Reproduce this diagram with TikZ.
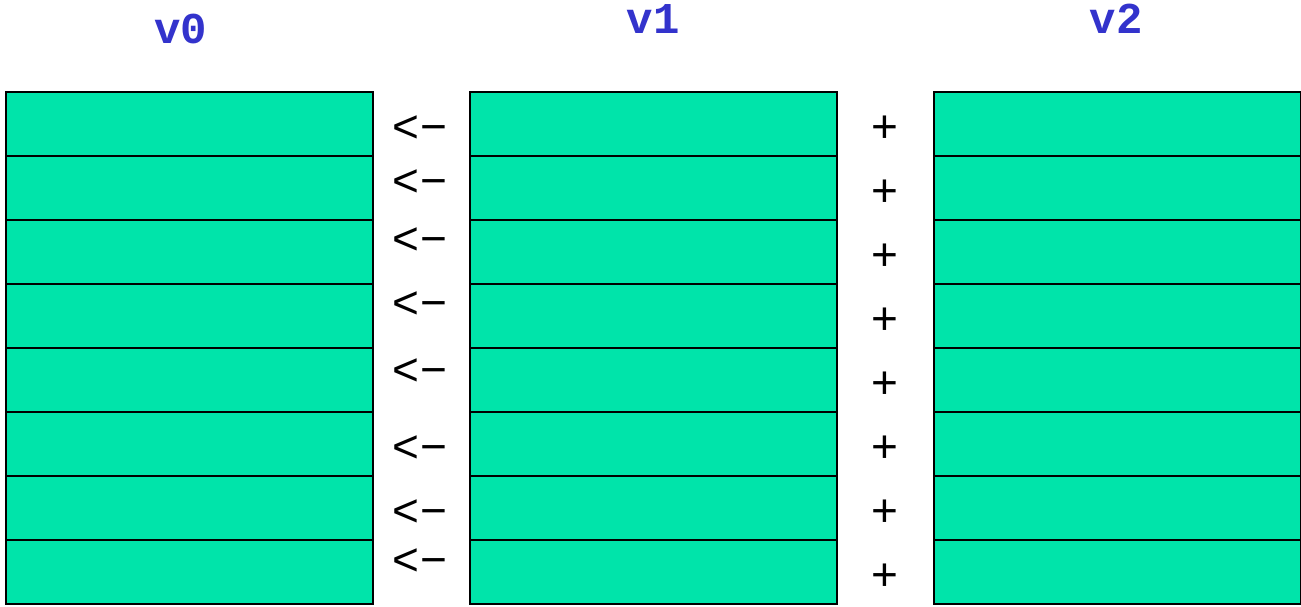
\documentclass[tikz,border=0pt]{standalone}
\usepackage{fontspec}
\setmainfont{Liberation Sans}
\newfontfamily\labelmono{Liberation Mono}
\definecolor{cellgreen}{RGB}{0,228,170}
\definecolor{labelblue}{RGB}{51,51,204}
\tikzset{
  cell/.style={draw=black, line width=2pt, fill=cellgreen, minimum width=367pt, minimum height=64pt, inner sep=0pt, anchor=north west},
  vlabel/.style={font=\labelmono\bfseries\fontsize{44}{44}\selectfont, text=labelblue, inner sep=0pt},
  opl/.style={font=\fontsize{46}{46}\selectfont, inner sep=0pt}
}
\begin{document}
\begin{tikzpicture}[x=1pt,y=-1pt]
\useasboundingbox (0,0) rectangle (1301,606);
\foreach \i in {0,...,7} {
  \node[cell] (a\i) at (5,{91+64*\i}) {};
  \node[cell] (b\i) at (469,{91+64*\i}) {};
  \node[cell] (c\i) at (933,{91+64*\i}) {};
}
\node[vlabel] (l0) at (181,29) {v0};
\node[vlabel] (l1) at (653,19) {v1};
\node[vlabel] (l2) at (1116,19) {v2};
\foreach \y [count=\k from 0] in {129,183,241,305,372,449,513,562} {
  \node[opl] (lt\k) at (420,\y) {<\kern2pt−};
}
\foreach \y [count=\k from 0] in {129,193,257,321,385,449,513,577} {
  \node[opl] (pl\k) at (885,\y) {+};
}
\end{tikzpicture}
\end{document}
